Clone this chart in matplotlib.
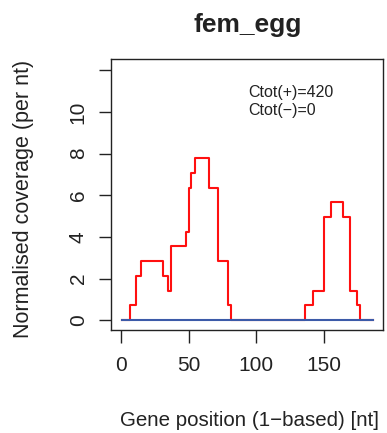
import matplotlib
matplotlib.use("Agg")
import matplotlib.pyplot as plt

plt.rcParams["font.family"] = ["Liberation Sans", "DejaVu Sans"]

# step breakpoints (gene position, 1-based) and coverage level from each breakpoint on
pos_plus = [1, 7, 11, 15, 31, 35, 37, 48, 50, 52, 55, 65, 72, 79, 81,
            136, 142, 150, 155, 164, 169, 174, 176, 186]
cov_plus = [0, 0.71, 2.12, 2.83, 2.12, 1.41, 3.54, 4.24, 6.36, 7.07, 7.78, 6.36, 2.83, 0.71, 0,
            0.71, 1.41, 4.95, 5.66, 4.95, 1.41, 0.71, 0, 0]
pos_minus = [1, 186]
cov_minus = [0, 0]

title = "fem_egg"
notes = ["Ctot(+)=420", "Ctot(\u2212)=0"]
dark = "#222222"

fig = plt.figure(figsize=(3.87, 4.33), dpi=100)
ax = fig.add_axes([0.288, 0.2379, 0.7016, 0.6258])

ax.step(pos_plus, cov_plus, where="post", color="#ff1010", lw=1.5)
ax.plot(pos_minus, cov_minus, color="#3c5aa8", lw=1.5)

ax.set_xlim(-6.8, 193.3)
ax.set_ylim(-0.47, 12.54)
ax.set_xticks([0, 50, 100, 150])
ax.set_yticks([0, 2, 4, 6, 8, 10, 12])
ax.set_yticklabels(["0", "2", "4", "6", "8", "10", ""], rotation=90, va="center")
ax.tick_params(direction="out", length=9, width=1, labelsize=15, colors=dark)
ax.tick_params(axis="x", pad=10)
ax.tick_params(axis="y", pad=8)
for s in ax.spines.values():
    s.set_linewidth(1)
    s.set_color(dark)

# annotation, title and axis labels placed in figure pixels
def px(x, y):
    return x / 387, 1 - y / 433

fig.text(*px(248, 93), notes[0], fontsize=11.5, va="center", color=dark)
fig.text(*px(248, 110), notes[1], fontsize=11.5, va="center", color=dark)
fig.text(*px(247.5, 25), title, ha="center", va="center", fontsize=19, fontweight="bold", color=dark)
fig.text(*px(250, 420), "Gene position (1\u2212based) [nt]", ha="center", va="center",
         fontsize=14.8, color=dark)
fig.text(*px(23.5, 199), "Normalised coverage (per nt)", ha="center", va="center",
         rotation=90, fontsize=15.5, color=dark)

fig.savefig("out.png", dpi=100)
